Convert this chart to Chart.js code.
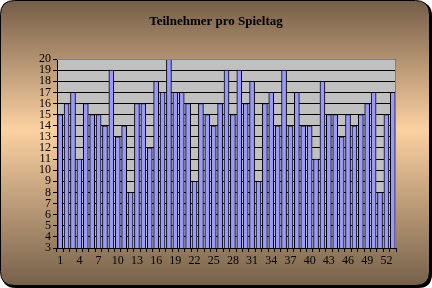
<!DOCTYPE html>
<html>
<head>
<meta charset="utf-8">
<script src="https://cdn.jsdelivr.net/npm/chart.js@4.4.1/dist/chart.umd.min.js"></script>
<style>
html,body{margin:0;padding:0;background:#ffffff;}
#wrap{width:432px;height:288px;position:relative;}
</style>
</head>
<body>
<div id="wrap"><canvas id="c" width="432" height="288"></canvas></div>
<script>
const chartTitle = "Teilnehmer pro Spieltag";
const matchdays = [];
for (let i = 1; i <= 53; i++) matchdays.push(String(i));
const participants = [15,16,17,11,16,15,15,14,19,13,14,8,16,16,12,18,17,20,17,17,16,9,16,15,14,16,19,15,19,16,18,9,16,17,14,19,14,17,14,14,11,18,15,15,13,15,14,15,16,17,8,15,17];
const yMin = 3, yMax = 20;

const SERIF = "'Liberation Serif', 'Times New Roman', serif";

const bgPlugin = {
  id: 'bg',
  beforeDraw(chart) {
    const ctx = chart.ctx;
    const W = chart.width, H = chart.height;
    ctx.save();
    function rr(x, y, w, h, r) {
      ctx.beginPath();
      ctx.moveTo(x + r, y);
      ctx.lineTo(x + w - r, y);
      ctx.quadraticCurveTo(x + w, y, x + w, y + r);
      ctx.lineTo(x + w, y + h - r);
      ctx.quadraticCurveTo(x + w, y + h, x + w - r, y + h);
      ctx.lineTo(x + r, y + h);
      ctx.quadraticCurveTo(x, y + h, x, y + h - r);
      ctx.lineTo(x, y + r);
      ctx.quadraticCurveTo(x, y, x + r, y);
      ctx.closePath();
    }
    rr(2, 2, W - 2, H - 2, 14);
    ctx.fillStyle = '#000000';
    ctx.fill();
    rr(0.5, 0.5, W - 3, H - 3, 14);
    const g = ctx.createLinearGradient(0, 0, 0, H);
    g.addColorStop(0, '#735d47');
    g.addColorStop(0.45, '#fcd1a2');
    g.addColorStop(1, '#735f49');
    ctx.fillStyle = g;
    ctx.fill();
    ctx.lineWidth = 1;
    ctx.strokeStyle = '#000000';
    ctx.stroke();
    const a = chart.chartArea;
    ctx.fillStyle = '#c0c0c0';
    ctx.fillRect(a.left, a.top, a.right - a.left, a.bottom - a.top);
    ctx.fillStyle = '#000000';
    ctx.font = 'bold 13px ' + SERIF;
    ctx.textAlign = 'center';
    ctx.textBaseline = 'middle';
    ctx.fillText(chartTitle, 216, 22);
    ctx.restore();
  },
  afterDraw(chart) {
    const ctx = chart.ctx;
    const a = chart.chartArea;
    ctx.save();
    ctx.strokeStyle = '#808080';
    ctx.lineWidth = 1;
    ctx.beginPath();
    ctx.moveTo(a.left, a.top + 0.5);
    ctx.lineTo(a.right - 0.5, a.top + 0.5);
    ctx.lineTo(a.right - 0.5, a.bottom);
    ctx.stroke();
    ctx.restore();
  }
};

new Chart(document.getElementById('c'), {
  type: 'bar',
  data: {
    labels: matchdays,
    datasets: [{
      data: participants,
      backgroundColor: '#9999ff',
      borderColor: '#000000',
      borderWidth: 1,
      barThickness: 5,
      categoryPercentage: 1.0
    }]
  },
  options: {
    responsive: false,
    animation: false,
    devicePixelRatio: 1,
    layout: { padding: { left: 0, right: 36, top: 59, bottom: 10 } },
    plugins: {
      legend: { display: false },
      title: { display: false },
      tooltip: { enabled: false }
    },
    scales: {
      x: {
        offset: true,
        grid: {
          display: true,
          drawOnChartArea: false,
          drawTicks: true,
          tickLength: 4,
          color: '#000000',
          offset: true
        },
        border: { display: true, color: '#000000', width: 1 },
        ticks: {
          autoSkip: false,
          maxRotation: 0,
          minRotation: 0,
          padding: 2,
          color: '#000000',
          font: { family: SERIF, size: 12 },
          callback: function(v, i) { return (i % 3 === 0) ? matchdays[i] : ''; }
        },
        afterFit: function(s) { s.height = 30; }
      },
      y: {
        min: yMin,
        max: yMax,
        grid: {
          color: '#000000',
          lineWidth: 1,
          tickLength: 4,
          drawTicks: true
        },
        border: { display: true, color: '#000000', width: 1 },
        ticks: {
          stepSize: 1,
          autoSkip: false,
          padding: 2,
          color: '#000000',
          font: { family: SERIF, size: 12, lineHeight: 1 }
        },
        afterFit: function(s) { s.width = 57; }
      }
    }
  },
  plugins: [bgPlugin]
});
</script>
</body>
</html>
